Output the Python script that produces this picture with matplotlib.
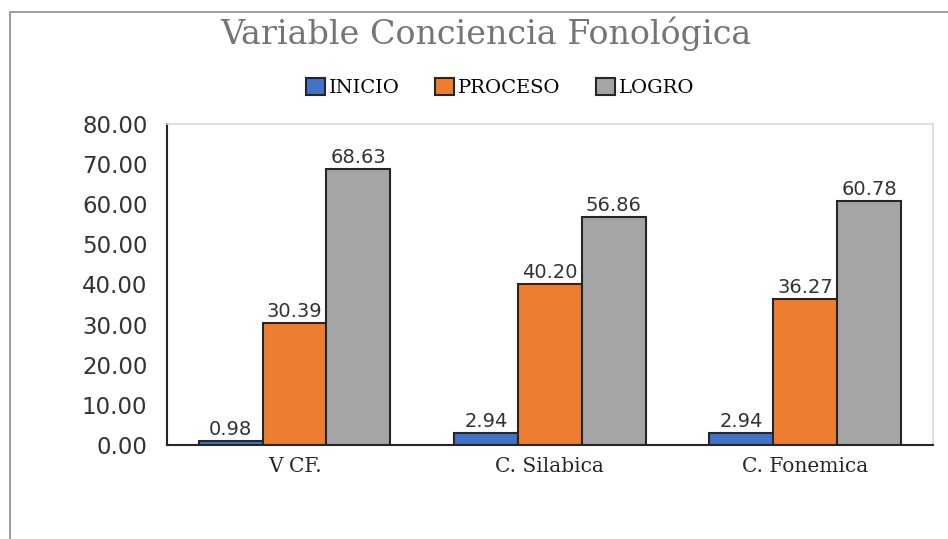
import numpy as np
import matplotlib.pyplot as plt
from matplotlib.patches import Rectangle

# datos del grafico
categorias = ["V CF.", "C. Silabica", "C. Fonemica"]
series = ["INICIO", "PROCESO", "LOGRO"]
inicio = [0.98, 2.94, 2.94]
proceso = [30.39, 40.20, 36.27]
logro = [68.63, 56.86, 60.78]
colores = ["#4472C4", "#ED7D31", "#A5A5A5"]

fig = plt.figure(figsize=(9.48, 5.39), dpi=100)
ax = fig.add_axes([0.176, 0.1744, 0.808, 0.596])

# marco exterior (solo arriba e izquierda visibles)
fig.patches.append(Rectangle((10 / 948, -0.1), 1.2, (539 - 12) / 539 + 0.1,
                             transform=fig.transFigure, fill=False,
                             edgecolor="#8c8c8c", linewidth=1.2))

x = np.arange(len(categorias))
ancho = 0.25
for i, (nombre, vals) in enumerate(zip(series, [inicio, proceso, logro])):
    barras = ax.bar(x + (i - 1) * ancho, vals, ancho, color=colores[i],
                    edgecolor="#262626", linewidth=1.5, label=nombre)
    for b, v in zip(barras, vals):
        ax.text(b.get_x() + b.get_width() / 2, v + 0.5, f"{v:.2f}",
                ha="center", va="bottom", fontsize=14, color="#333333",
                family="DejaVu Sans")

ax.set_xlim(-0.5, 2.5)
ax.set_ylim(0, 80)
ax.set_yticks(np.arange(0, 81, 10))
ax.set_yticklabels([f"{t:.2f}" for t in np.arange(0, 81, 10)],
                   fontsize=16.5, color="#333333", family="DejaVu Sans")
ax.set_xticks(x)
ax.set_xticklabels(categorias, fontsize=14.5, family="DejaVu Serif", color="#262626")
ax.tick_params(axis="both", length=0, pad=14)
ax.tick_params(axis="x", pad=9)

for s in ["top", "right"]:
    ax.spines[s].set_color("#d9d9d9")
    ax.spines[s].set_linewidth(1.2)
for s in ["left", "bottom"]:
    ax.spines[s].set_color("#262626")
    ax.spines[s].set_linewidth(1.5)

fig.text(0.512, 0.937, "Variable Conciencia Fonológica", ha="center", va="center",
         fontsize=24, color="#757575", family="DejaVu Serif", fontweight="medium")

ax.legend(loc="center", bbox_to_anchor=(0.5275, 0.838),
          bbox_transform=fig.transFigure, ncol=3, frameon=False,
          prop={"family": "DejaVu Serif", "size": 14},
          handlelength=1.0, handleheight=1.0, handletextpad=0.2,
          columnspacing=1.8)

fig.savefig("out.png", dpi=100)
